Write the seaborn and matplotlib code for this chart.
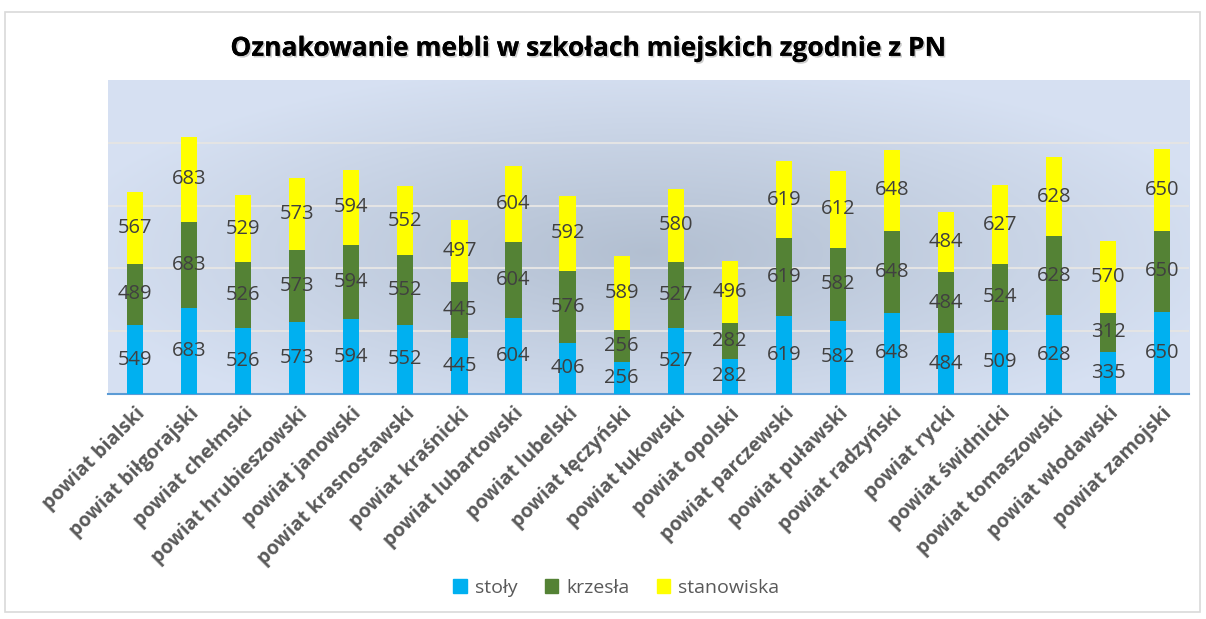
import numpy as np
import pandas as pd
import matplotlib
matplotlib.use("Agg")
import matplotlib.pyplot as plt
import seaborn as sns
from matplotlib import patheffects
from matplotlib.patches import Rectangle, Patch

powiaty = ["powiat bialski", "powiat biłgorajski", "powiat chełmski", "powiat hrubieszowski",
           "powiat janowski", "powiat krasnostawski", "powiat kraśnicki", "powiat lubartowski",
           "powiat lubelski", "powiat łęczyński", "powiat łukowski", "powiat opolski",
           "powiat parczewski", "powiat puławski", "powiat radzyński", "powiat rycki",
           "powiat świdnicki", "powiat tomaszowski", "powiat włodawski", "powiat zamojski"]
stoly = [549, 683, 526, 573, 594, 552, 445, 604, 406, 256, 527, 282, 619, 582, 648, 484, 509, 628, 335, 650]
krzesla = [489, 683, 526, 573, 594, 552, 445, 604, 576, 256, 527, 282, 619, 582, 648, 484, 524, 628, 312, 650]
stanowiska = [567, 683, 529, 573, 594, 552, 497, 604, 592, 589, 580, 496, 619, 612, 648, 484, 627, 628, 570, 650]

series = ["stoły", "krzesła", "stanowiska"]
colors = ["#00b0f0", "#548235", "#ffff00"]

df = pd.DataFrame({"powiat": powiaty, "stoły": stoly, "krzesła": krzesla, "stanowiska": stanowiska})
df["c1"] = df["stoły"]
df["c2"] = df["c1"] + df["krzesła"]
df["c3"] = df["c2"] + df["stanowiska"]

sns.set_style("white")
plt.rcParams["font.family"] = ["Open Sans", "DejaVu Sans"]

fig = plt.figure(figsize=(12.06, 6.19), dpi=100)
ax = fig.add_axes([0.0896, 0.3635, 0.8965, 0.5075])

# background gradient of the plot area
yy, xx = np.mgrid[0:1:200j, 0:1:300j]
r = np.sqrt(((xx - 0.5) / 0.55) ** 2 + ((yy - 0.55) / 0.6) ** 2)
shade = np.clip(1 - r, 0, 1)
c_edge = np.array([0.84, 0.88, 0.95])
c_mid = np.array([0.70, 0.75, 0.82])
img = c_edge + (c_mid - c_edge) * shade[..., None]
ax.imshow(img, extent=[0, 1, 0, 1], transform=ax.transAxes, aspect="auto", zorder=0)

# stacked bars drawn back to front with cumulative totals
for col, color in zip(["c3", "c2", "c1"], colors[::-1]):
    sns.barplot(data=df, x="powiat", y=col, color=color, width=0.3, saturation=1,
                linewidth=0, ax=ax, zorder=3)

ax.set_ylim(0, 2500)
ax.set_xlim(-0.5, len(powiaty) - 0.5)
ax.set_yticks([500, 1000, 1500, 2000])
ax.set_yticklabels([])
ax.tick_params(axis="y", length=0)
ax.grid(axis="y", color="#e4e4e4", linewidth=1.5, zorder=1)
ax.set_axisbelow(True)
for s in ["top", "right", "left"]:
    ax.spines[s].set_visible(False)
ax.spines["bottom"].set_color("#5b9bd5")
ax.spines["bottom"].set_linewidth(1.5)
ax.set_xlabel("")
ax.set_ylabel("")

# data labels in the middle of each segment
for i in range(len(df)):
    lows = [0, df["c1"][i], df["c2"][i]]
    for lo, s in zip(lows, series):
        v = df[s][i]
        ax.text(i, lo + v / 2, str(v), ha="center", va="center", fontsize=14.5,
                color="#404040", zorder=5)

ax.tick_params(axis="x", length=0, pad=7)
ax.set_xticks(range(len(powiaty)))
ax.set_xticklabels(powiaty, rotation=45, ha="right", rotation_mode="anchor",
                   fontsize=14, fontweight="bold", color="#595959")

fig.text(0.487, 0.922, "Oznakowanie mebli w szkołach miejskich zgodnie z PN",
         ha="center", va="center", fontsize=19, fontweight="bold", color="black",
         path_effects=[patheffects.withSimplePatchShadow(offset=(1.2, -1.2), alpha=0.2),
                       patheffects.Normal()])

handles = [Patch(facecolor=c, edgecolor=c) for c in colors]
fig.legend(handles, series, loc="center", bbox_to_anchor=(0.511, 0.05), ncol=3,
           frameon=False, fontsize=14, handlelength=0.7, handleheight=0.7,
           columnspacing=1.4, handletextpad=0.4, labelcolor="#595959")

fig.patches.append(Rectangle((0.004, 0.012), 0.991, 0.968, transform=fig.transFigure,
                             fill=False, edgecolor="#d9d9d9", linewidth=1.2))

fig.savefig("out.png", dpi=100)
